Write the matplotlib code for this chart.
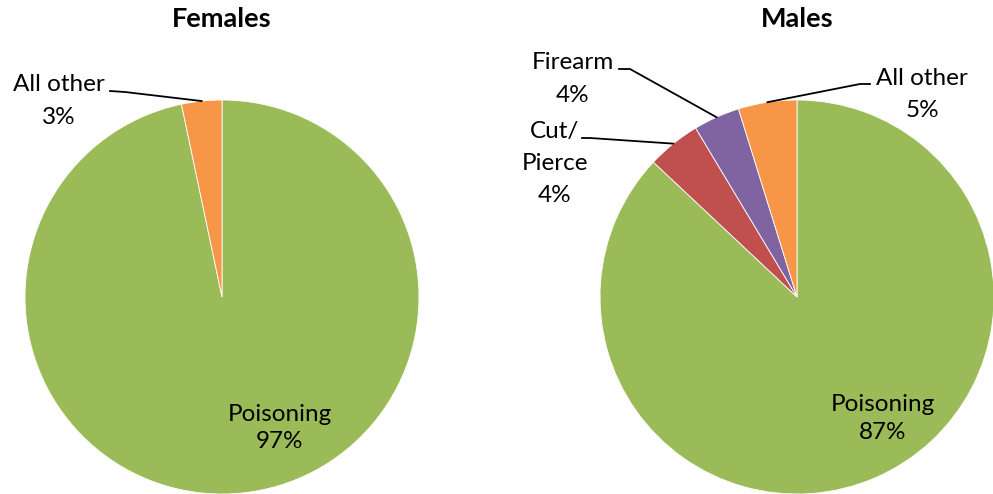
import numpy as np
import matplotlib
matplotlib.use("Agg")
import matplotlib.pyplot as plt
from matplotlib.lines import Line2D

# ---- data ----
female_categories = ["Poisoning", "All other"]
female_values = [96.7, 3.3]
female_labels = ["97%", "3%"]

male_categories = ["Poisoning", "Cut/\nPierce", "Firearm", "All other"]
male_values = [87.0, 4.4, 3.8, 4.8]
male_labels = ["87%", "4%", "4%", "5%"]

colors_f = ["#9BBB59", "#F79646"]
colors_m = ["#9BBB59", "#C0504D", "#8064A2", "#F79646"]

W, H = 993, 494
FONT = ["Lato", "DejaVu Sans"]
plt.rcParams["font.family"] = FONT

fig = plt.figure(figsize=(W / 100, H / 100), dpi=100)

R = 197.0


def fx(x):
    return x / W


def fy(y):
    return 1 - y / H


def draw_pie(cx, cy, values, colors):
    ax = fig.add_axes([fx(cx - R), fy(cy + R), 2 * R / W, 2 * R / H])
    ax.pie(values, colors=colors, startangle=90, counterclock=False,
           wedgeprops=dict(edgecolor="white", linewidth=0.6), radius=1.0)
    ax.set_xlim(-1, 1)
    ax.set_ylim(-1, 1)
    ax.set_aspect("auto")
    ax.axis("off")
    return ax


def slice_mid_px(cx, cy, values, idx):
    tot = float(sum(values))
    start = sum(values[:idx]) / tot * 360
    mid = start + values[idx] / tot * 360 / 2
    th = np.radians(mid)
    return cx + R * np.sin(th), cy - R * np.cos(th)


def leader(p_start, p_elbow, p_end):
    xs = [fx(p_start[0]), fx(p_elbow[0]), fx(p_end[0])]
    ys = [fy(p_start[1]), fy(p_elbow[1]), fy(p_end[1])]
    fig.add_artist(Line2D(xs, ys, color="black", lw=1.3))


FS = 17.5
TFS = 19.5


def label(cx, first_baseline, step, category, pct):
    lines = category.split("\n") + [pct]
    for i, s in enumerate(lines):
        fig.text(fx(cx), fy(first_baseline + i * step), s, ha="center", va="baseline",
                 fontsize=FS)


# Females
cxf, cyf = 222, 297
draw_pie(cxf, cyf, female_values, colors_f)
fig.text(fx(222), fy(27), "Females", ha="center", va="baseline", fontsize=TFS, fontweight="bold")
label(279.5, 421, 27, female_categories[0], female_labels[0])
label(58.5, 91, 33, female_categories[1], female_labels[1])
leader((110, 91), (125, 92), slice_mid_px(cxf, cyf, female_values, 1))

# Males
cxm, cym = 797, 297
draw_pie(cxm, cym, male_values, colors_m)
fig.text(fx(797), fy(27), "Males", ha="center", va="baseline", fontsize=TFS, fontweight="bold")
label(883, 411, 28, male_categories[0], male_labels[0])
label(555, 138, 32, male_categories[1], male_labels[1])
label(572.5, 69, 33, male_categories[2], male_labels[2])
label(922, 85, 32, male_categories[3], male_labels[3])
leader((619, 69), (630, 69), slice_mid_px(cxm, cym, male_values, 2))
leader((582, 138), (590, 138), slice_mid_px(cxm, cym, male_values, 1))
leader((870, 84), (860, 84), slice_mid_px(cxm, cym, male_values, 3))

fig.savefig("out.png", dpi=100, facecolor="white")
